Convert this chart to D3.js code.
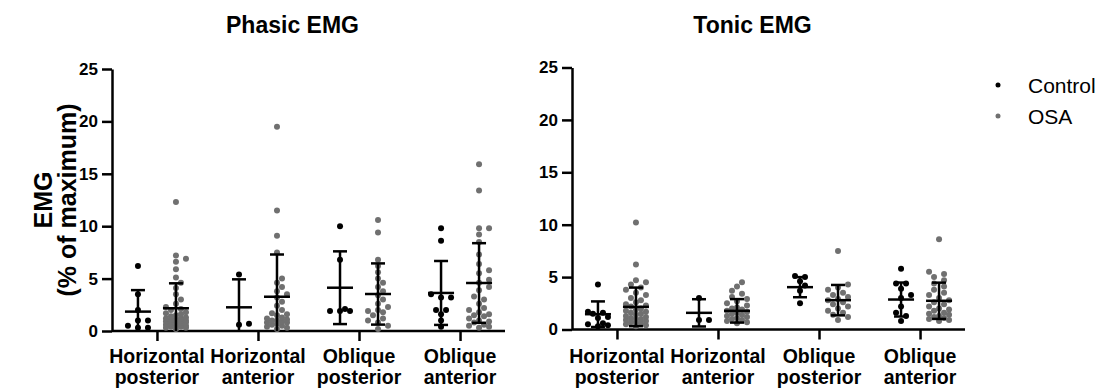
<!DOCTYPE html>
<html>
<head>
<meta charset="utf-8">
<script src="https://cdn.jsdelivr.net/npm/d3@7"></script>
<style>
  body { margin: 0; background: #fff; }
  svg { display: block; font-family: "Liberation Sans", Arial, sans-serif; }
</style>
</head>
<body>
<div id="chart"></div>
<script>
// categories and groups
const categories = ["Horizontal posterior", "Horizontal anterior", "Oblique posterior", "Oblique anterior"];
const groups = ["Control", "OSA"];
const yTicks = [0, 5, 10, 15, 20, 25];
const panelTitles = ["Phasic EMG", "Tonic EMG"];

// individual values (% of maximum), one array per category
const phasicControl = [
  [6.2, 3.5, 2.0, 1.0, 1.0, 0.5, 0.3, 0.3],
  [5.4, 0.6, 0.7],
  [10.0, 6.8, 2.1, 1.9, 1.9, 1.9],
  [9.8, 8.6, 3.5, 3.2, 3.2, 2.0, 2.0, 1.6, 1.0, 0.4]
];
const phasicOSA = [
  [12.3, 7.2, 6.9, 6.6, 5.9, 5.1, 4.6, 4.1, 3.5, 3.0, 2.6, 2.3, 2.1, 2.0, 1.8, 1.7, 1.6, 1.5, 1.4, 1.3,
   1.2, 1.2, 1.2, 1.1, 1.0, 1.0, 1.0, 0.9, 0.9, 0.8, 0.8, 0.8, 0.7, 0.6, 0.6, 0.5, 0.5, 0.4, 0.4, 0.3, 0.3, 0.2],
  [19.5, 11.5, 9.1, 7.5, 5.0, 4.6, 4.2, 3.8, 3.5, 3.2, 2.8, 2.4, 2.0, 1.7, 1.6, 1.5, 1.3, 1.2, 1.1, 1.0,
   1.0, 0.9, 0.8, 0.8, 0.7, 0.6, 0.5, 0.4, 0.3, 0.2],
  [10.6, 9.4, 6.8, 6.2, 5.6, 5.0, 4.6, 4.2, 3.8, 3.4, 3.0, 2.6, 2.3, 2.0, 1.9, 1.8, 1.5, 1.2, 1.0, 0.8, 0.5, 0.2],
  [15.9, 13.4, 9.8, 9.8, 9.2, 8.5, 7.3, 6.4, 5.8, 5.5, 4.9, 4.6, 4.2, 3.9, 3.3, 3.0, 2.6, 2.2, 2.0, 1.8,
   1.6, 1.5, 1.4, 1.2, 1.0, 0.9, 0.8, 0.6, 0.5, 0.4, 0.3]
];
const tonicControl = [
  [4.3, 1.7, 1.6, 1.5, 1.2, 1.1, 0.6, 0.5, 0.4, 0.3],
  [3.0, 0.9, 0.9],
  [5.1, 5.0, 4.6, 4.2, 3.7, 2.5],
  [5.8, 4.4, 4.4, 3.9, 3.3, 3.0, 2.2, 1.6, 1.3, 0.8]
];
const tonicOSA = [
  [10.2, 6.2, 4.7, 4.5, 4.3, 4.0, 3.8, 3.5, 3.3, 3.0, 2.8, 2.6, 2.4, 2.3, 2.2, 2.0, 1.9, 1.8, 1.7, 1.6,
   1.5, 1.4, 1.3, 1.2, 1.1, 1.0, 1.0, 0.9, 0.8, 0.7, 0.7, 0.6, 0.5, 0.4, 0.3],
  [4.5, 4.1, 3.7, 3.4, 3.1, 2.9, 2.7, 2.5, 2.3, 2.1, 2.0, 1.9, 1.8, 1.7, 1.6, 1.5, 1.4, 1.3, 1.2, 1.1,
   1.0, 0.9, 0.8, 0.7, 0.6],
  [7.5, 4.3, 4.0, 3.8, 3.5, 3.3, 3.1, 2.9, 2.8, 2.6, 2.4, 2.2, 2.0, 1.8, 1.6, 1.4, 1.2, 0.9],
  [8.6, 5.5, 5.3, 5.0, 4.7, 4.4, 4.1, 3.8, 3.5, 3.3, 3.0, 2.8, 2.6, 2.4, 2.2, 2.0, 1.9, 1.8, 1.6, 1.5,
   1.4, 1.3, 1.2, 1.1, 1.0, 0.9, 0.8]
];

// mean and SD
const phasicControlMean = [1.85, 2.26, 4.13, 3.63];
const phasicControlSD   = [2.05, 2.67, 3.47, 3.05];
const phasicOSAMean     = [2.17, 3.27, 3.53, 4.58];
const phasicOSASD       = [2.38, 4.03, 2.92, 3.80];
const tonicControlMean  = [1.46, 1.59, 4.04, 2.86];
const tonicControlSD    = [1.22, 1.30, 0.96, 1.62];
const tonicOSAMean      = [2.16, 1.78, 2.80, 2.74];
const tonicOSASD        = [1.84, 1.12, 1.45, 1.73];

const width = 1102, height = 389;
const colors = { Control: "#000000", OSA: "#707070" };
const r = 3;

const panels = [
  { title: panelTitles[0], x0: 112, x1: 505, yBottom: 331, yTop: 69,
    values: { Control: phasicControl, OSA: phasicOSA },
    mean: { Control: phasicControlMean, OSA: phasicOSAMean },
    sd: { Control: phasicControlSD, OSA: phasicOSASD }, yLabel: true },
  { title: panelTitles[1], x0: 572, x1: 965, yBottom: 329.5, yTop: 67.5,
    values: { Control: tonicControl, OSA: tonicOSA },
    mean: { Control: tonicControlMean, OSA: tonicOSAMean },
    sd: { Control: tonicControlSD, OSA: tonicOSASD }, yLabel: false }
];

const svg = d3.select("#chart").append("svg")
  .attr("width", width)
  .attr("height", height);

// compact swarm: nearest free slot within +-13px, else the least crowded slot
function swarm(vals, y, cx) {
  const sorted = vals.slice().sort((a, b) => a - b);
  const placed = [];
  const minDist = r * 2;
  const offsets = [0];
  for (let k = 1; k * 5 <= 13; k++) offsets.push(k * 5, -k * 5);
  sorted.forEach(v => {
    const py = y(v);
    let best = 0, bestD = -1;
    for (const off of offsets) {
      const d = placed.length ? d3.min(placed, p => Math.hypot(p.x - (cx + off), p.y - py)) : Infinity;
      if (d >= minDist) { best = off; bestD = Infinity; break; }
      if (d > bestD) { bestD = d; best = off; }
    }
    placed.push({ x: cx + best, y: py });
  });
  return placed;
}

panels.forEach(p => {
  const x = d3.scalePoint().domain(categories).range([p.x0, p.x1]).padding(0.445);
  const xg = d3.scalePoint().domain(groups).range([-19, 19]);
  const y = d3.scaleLinear().domain([0, 25]).range([p.yBottom, p.yTop]);

  const g = svg.append("g");

  // y axis
  const ya = g.append("g")
    .attr("transform", "translate(" + p.x0 + ",0)")
    .call(d3.axisLeft(y).tickValues(yTicks).tickSize(10).tickSizeOuter(0).tickPadding(4));
  ya.selectAll("text").style("font-size", "17px").style("font-weight", "bold").attr("fill", "#000");

  // x axis
  const xa = g.append("g")
    .attr("transform", "translate(0," + p.yBottom + ")")
    .call(d3.axisBottom(x).tickSize(10).tickSizeOuter(0).tickFormat(""));
  xa.select(".domain").attr("d", "M" + p.x0 + ",0H" + p.x1);

  [ya, xa].forEach(a => {
    a.selectAll("path, line").attr("stroke", "#000").attr("stroke-width", 2.5);
  });

  // category labels on two lines
  const lab = g.append("g").selectAll("text")
    .data(categories).enter().append("text")
    .attr("text-anchor", "middle")
    .attr("font-size", "19.5px")
    .attr("font-weight", "bold")
    .attr("fill", "#000");
  lab.each(function (d) {
    const parts = d.split(" ");
    const t = d3.select(this);
    parts.forEach((s, i) => {
      t.append("tspan").attr("x", x(d)).attr("y", 363 + i * 21).text(s);
    });
  });

  // points
  groups.forEach(grp => {
    categories.forEach((c, ci) => {
      const pts = swarm(p.values[grp][ci], y, x(c) + xg(grp));
      g.append("g").selectAll("circle")
        .data(pts).enter().append("circle")
        .attr("cx", d => d.x)
        .attr("cy", d => d.y)
        .attr("r", r)
        .attr("fill", colors[grp]);
    });
  });

  // mean and SD bars
  groups.forEach(grp => {
    categories.forEach((c, ci) => {
      const cx = x(c) + xg(grp);
      const m = p.mean[grp][ci], s = p.sd[grp][ci];
      const lo = Math.max(0, m - s), hi = m + s;
      const eb = g.append("g").attr("stroke", "#000").attr("stroke-width", 2.5);
      eb.append("line").attr("x1", cx).attr("x2", cx).attr("y1", y(lo)).attr("y2", y(hi));
      eb.append("line").attr("x1", cx - 7).attr("x2", cx + 7).attr("y1", y(hi)).attr("y2", y(hi));
      if (lo > 0) eb.append("line").attr("x1", cx - 7).attr("x2", cx + 7).attr("y1", y(lo)).attr("y2", y(lo));
      eb.append("line").attr("x1", cx - 13).attr("x2", cx + 13).attr("y1", y(m)).attr("y2", y(m));
    });
  });

  // title
  g.append("text")
    .attr("x", (p.x0 + p.x1) / 2 - 16)
    .attr("y", 33)
    .attr("text-anchor", "middle")
    .attr("font-size", "23px")
    .attr("font-weight", "bold")
    .text(p.title);

  if (p.yLabel) {
    const yl = g.append("text")
      .attr("transform", "translate(0," + ((p.yBottom + p.yTop) / 2) + ") rotate(-90)")
      .attr("text-anchor", "middle")
      .attr("font-size", "25px")
      .attr("font-weight", "bold");
    yl.append("tspan").attr("x", 0).attr("y", 52).text("EMG");
    yl.append("tspan").attr("x", 0).attr("y", 76).text("(% of maximum)");
  }
});

// legend
const legend = svg.append("g").selectAll("g")
  .data(groups).enter().append("g")
  .attr("transform", (d, i) => "translate(998," + (85 + i * 31) + ")");
legend.append("circle").attr("r", 2.5).attr("fill", d => colors[d]);
legend.append("text")
  .attr("x", 30)
  .attr("y", 7.5)
  .attr("font-size", "21px")
  .text(d => d);
</script>
</body>
</html>
